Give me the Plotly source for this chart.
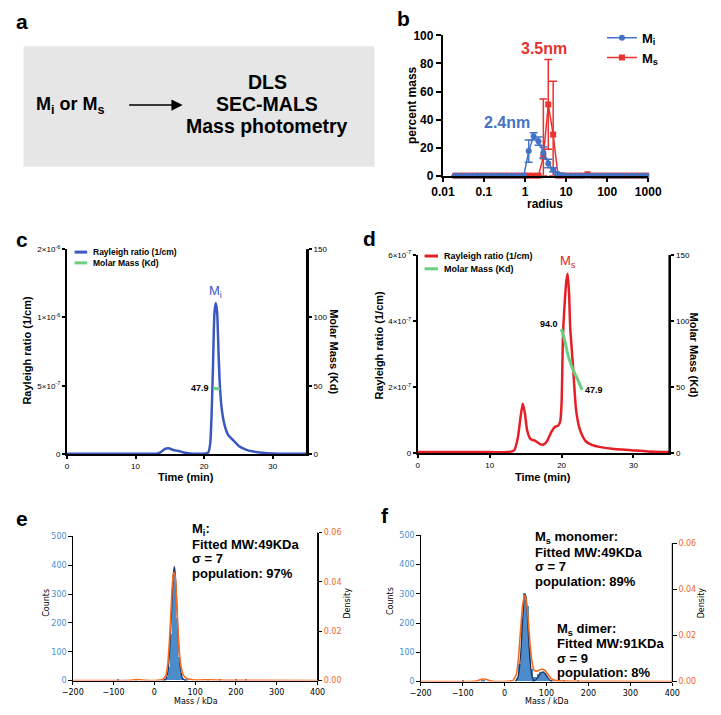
import plotly.graph_objects as go
import numpy as np

W, H = 721, 715
def fx(p): return p / W
def fy(p): return 1 - p / H

ARIAL = "Liberation Sans, Arial, sans-serif"
DJ = "DejaVu Sans, sans-serif"

# ---------------- panel b : DLS ----------------
radius = [0.020, 0.0263, 0.0346, 0.0456, 0.0600, 0.0789, 0.104, 0.137, 0.180, 0.237,
          0.312, 0.410, 0.540, 0.711, 0.935, 1.23, 1.62, 2.13, 2.80, 3.69,
          4.85, 6.39, 8.41, 11.1, 14.6, 19.2, 25.2, 33.2, 43.7, 57.5,
          75.7, 99.6, 131, 172, 227, 299, 393, 517, 681, 896]
mi_mass = [0, 0, 0, 0, 0, 0, 0, 0, 0, 0, 0, 0, 0, 0, 0, 17.5, 28, 24.6, 16.4, 8.7,
           4.2, 1.2, 0.3, 0, 0, 0, 0, 0, 0, 0, 0, 0, 0, 0, 0, 0, 0, 0, 0, 0]
mi_err = [0, 0, 0, 0, 0, 0, 0, 0, 0, 0, 0, 0, 0, 0, 0, 8, 2.5, 3, 4, 3,
          1.5, 0.5, 0, 0, 0, 0, 0, 0, 0, 0, 0, 0, 0, 0, 0, 0, 0, 0, 0, 0]
ms_mass = [0, 0, 0, 0, 0, 0, 0, 0, 0, 0, 0, 0, 0, 0, 0, 0, 0, 0, 13.6, 50.8,
           29.3, 0, 0, 0, 0, 0, 0, 1.0, 0, 0, 0, 0, 0, 0, 0, 0, 0, 0, 0, 0]
ms_err_up = [0, 0, 0, 0, 0, 0, 0, 0, 0, 0, 0, 0, 0, 0, 0, 0, 0, 0, 41, 32,
             38, 0, 0, 0, 0, 0, 0, 0, 0, 0, 0, 0, 0, 0, 0, 0, 0, 0, 0, 0]
ms_err_dn = [0, 0, 0, 0, 0, 0, 0, 0, 0, 0, 0, 0, 0, 0, 0, 0, 0, 0, 13.6, 32,
             29.3, 0, 0, 0, 0, 0, 0, 0, 0, 0, 0, 0, 0, 0, 0, 0, 0, 0, 0, 0]
radius_ticks = [0.01, 0.1, 1, 10, 100, 1000]
radius_ticklabels = ["0.01", "0.1", "1", "10", "100", "1000"]

# ---------------- panel c : SEC-MALS Mi ----------------
time_c = [0, 5, 10, 13, 13.7, 14.3, 14.8, 15.5, 16.3, 17, 18, 19, 20, 20.6, 20.9, 21.1,
          21.3, 21.5, 21.7, 21.9, 22.1, 22.3, 22.6, 23.0, 23.5, 24.4, 25.1, 26, 27, 28.5, 30, 35]
rayleigh_c = [0.02, 0.02, 0.02, 0.03, 0.15, 0.38, 0.43, 0.3, 0.22, 0.12, 0.05, 0.03, 0.03, 0.1,
              0.8, 3.0, 6.5, 10.5, 12.1, 10.8, 7.5, 5.0, 3.2, 2.1, 1.4, 0.93, 0.57, 0.35, 0.2,
              0.1, 0.05, 0.02]          # units of 1e-7 1/cm
molar_c_time = [21.3, 21.6, 21.9, 22.3]
molar_c = [48.2, 47.9, 47.8, 47.6]
# segmented left axis (GraphPad style): value (1e-7) -> plotted position
seg_vals = [0, 5, 10, 20]
seg_pos = [0, 50, 100, 150]
seg_labels = ["0", "5×10<sup>-7</sup>", "1×10<sup>-6</sup>", "2×10<sup>-6</sup>"]

# ---------------- panel d : SEC-MALS Ms ----------------
time_d = [0, 5, 10, 12.5, 13.4, 13.9, 14.3, 14.6, 14.9, 15.2, 15.6, 15.9, 16.3, 16.6, 17.0,
          17.4, 17.95, 18.6, 19.1, 19.5, 19.8, 20.0, 20.2, 20.45, 20.65, 20.85, 21.05, 21.2,
          21.6, 22.0, 22.5, 23.0, 23.4, 24.2, 25.4, 27, 30, 32, 35]
rayleigh_d = [0.03, 0.03, 0.03, 0.03, 0.08, 0.45, 1.1, 1.5, 1.2, 0.7, 0.45, 0.4, 0.38, 0.33,
              0.27, 0.25, 0.35, 0.65, 0.8, 0.83, 0.95, 1.5, 3.6, 4.6, 5.2, 5.43, 4.8, 3.8,
              2.6, 1.34, 0.74, 0.48, 0.35, 0.25, 0.18, 0.13, 0.08, 0.05, 0.03]  # 1e-7 1/cm
molar_d_time = [19.95, 20.2, 20.45, 20.9, 21.6, 22.25, 22.85]
molar_d = [94.0, 90, 85, 74, 63, 55.7, 47.9]
ray_d_ticks = [0, 2, 4, 6]
ray_d_labels = ["0", "2×10<sup>-7</sup>", "4×10<sup>-7</sup>", "6×10<sup>-7</sup>"]

# ---------------- panel e : mass photometry Mi ----------------
hist_e_mass = [-90, -45, 25, 30, 35, 40, 45, 50, 55, 60, 65, 70, 75, 80, 130, 160, 200, 225]
hist_e_counts = [1, 2, 3, 12, 45, 160, 345, 375, 215, 80, 25, 7, 3, 1, 1, 1, 1, 1]
fit_e_mass = [20, 28, 32, 36, 40, 44, 47, 49, 51, 54, 58, 62, 66, 70, 78]
fit_e_counts = [0, 5, 22, 70, 170, 300, 375, 395, 375, 300, 170, 70, 22, 5, 0]
kde_e_mass = [-200, -100, -60, -45, -35, -20, 0, 20, 28, 33, 38, 43, 47, 50, 53, 57, 61,
              65, 70, 78, 90, 110, 130, 160, 190, 230, 400]
kde_e_dens = [0, 0, 0.0001, 0.0004, 0.0003, 0.0001, 0, 0.0004, 0.002, 0.007, 0.019, 0.036,
              0.0437, 0.0435, 0.038, 0.024, 0.012, 0.006, 0.0025, 0.001, 0.0004, 0.0002,
              0.0003, 0.0002, 0.0001, 0.0001, 0]

# ---------------- panel f : mass photometry Ms ----------------
hist_f_mass = [-100, -55, -50, 30, 35, 40, 45, 50, 55, 60, 65, 70, 75, 80, 85, 90, 95, 100,
               105, 110, 140, 175]
hist_f_counts = [1, 2, 3, 10, 60, 218, 300, 290, 256, 120, 40, 15, 15, 25, 30, 32, 28, 18,
                 8, 3, 1, 1]
fit_f1_mass = [25, 30, 35, 40, 44, 47, 49, 51, 54, 58, 63, 68, 73]
fit_f1_counts = [1, 8, 40, 130, 233, 288, 300, 288, 233, 130, 40, 8, 1]
fit_f2_mass = [65, 70, 75, 80, 85, 91, 97, 102, 107, 112, 117]
fit_f2_counts = [1, 2.2, 6.7, 15.7, 26.5, 33, 26.5, 15.7, 6.7, 2.2, 1]
kde_f_mass = [-200, -80, -65, -55, -45, -35, -20, 0, 20, 28, 33, 38, 43, 48, 52, 56, 60, 65,
              70, 75, 80, 88, 95, 102, 110, 120, 140, 200, 400]
kde_f_dens = [0, 0, 0.0003, 0.001, 0.001, 0.0003, 0, 0, 0.0005, 0.003, 0.01, 0.022, 0.033,
              0.0374, 0.035, 0.028, 0.018, 0.009, 0.005, 0.0045, 0.0048, 0.0053, 0.005,
              0.0035, 0.0015, 0.0005, 0.0002, 0.0001, 0]

# ---------------- colours ----------------
B_BLUE, B_RED = "#4472c4", "#e8322d"
C_BLUE, D_RED, GREEN = "#3b58c0", "#e41f26", "#6ccf7f"
H_BLUE, NAVY, ORANGE = "#4d8ccb", "#1b2f5e", "#f86a1c"
TICK_BLUE, TICK_ORANGE = "#3f8fd2", "#f2661c"

fig = go.Figure()

# b
fig.add_trace(go.Scatter(
    x=radius, y=ms_mass, mode="lines+markers", name="M<sub>s</sub>",
    marker=dict(symbol="square", size=6, color=B_RED), line=dict(color=B_RED, width=1.5),
    error_y=dict(type="data", symmetric=False, array=ms_err_up, arrayminus=ms_err_dn,
                 color=B_RED, thickness=1.5, width=4),
    xaxis="x", yaxis="y", legend="legend", legendrank=2, cliponaxis=False))
fig.add_trace(go.Scatter(
    x=radius, y=mi_mass, mode="lines+markers", name="M<sub>i</sub>",
    marker=dict(symbol="circle", size=6, color=B_BLUE), line=dict(color=B_BLUE, width=1.5),
    error_y=dict(type="data", array=mi_err, color=B_BLUE, thickness=1.5, width=4),
    xaxis="x", yaxis="y", legend="legend", legendrank=1, cliponaxis=False))

# c
ray_c_pos = np.interp(rayleigh_c, seg_vals, seg_pos)
fig.add_trace(go.Scatter(
    x=time_c, y=ray_c_pos, mode="lines", name="Rayleigh ratio (1/cm)",
    line=dict(color=C_BLUE, width=2.5, shape="spline", smoothing=0.5),
    xaxis="x2", yaxis="y2", showlegend=False))
fig.add_trace(go.Scatter(
    x=molar_c_time, y=molar_c, mode="lines", name="Molar Mass (Kd)",
    line=dict(color=GREEN, width=3), xaxis="x2", yaxis="y3", showlegend=False))

# d
fig.add_trace(go.Scatter(
    x=time_d, y=rayleigh_d, mode="lines", name="Rayleigh ratio (1/cm)",
    line=dict(color=D_RED, width=2.5, shape="spline", smoothing=0.5),
    xaxis="x3", yaxis="y4", showlegend=False))
fig.add_trace(go.Scatter(
    x=molar_d_time, y=molar_d, mode="lines", name="Molar Mass (Kd)",
    line=dict(color=GREEN, width=3, shape="spline"), xaxis="x3", yaxis="y5", showlegend=False))

# e
fig.add_trace(go.Bar(x=hist_e_mass, y=hist_e_counts, width=5, marker=dict(color=H_BLUE, line=dict(width=0)),
                     xaxis="x4", yaxis="y6", showlegend=False))
fig.add_trace(go.Scatter(x=fit_e_mass, y=fit_e_counts, mode="lines", line=dict(color=NAVY, width=1.2, shape="spline"),
                         xaxis="x4", yaxis="y6", showlegend=False))
fig.add_trace(go.Scatter(x=kde_e_mass, y=kde_e_dens, mode="lines", line=dict(color=ORANGE, width=1.6, shape="spline", smoothing=0.4),
                         xaxis="x4", yaxis="y7", showlegend=False))

# f
fig.add_trace(go.Bar(x=hist_f_mass, y=hist_f_counts, width=5, marker=dict(color=H_BLUE, line=dict(width=0)),
                     xaxis="x5", yaxis="y8", showlegend=False))
fig.add_trace(go.Scatter(x=fit_f1_mass, y=fit_f1_counts, mode="lines", line=dict(color=NAVY, width=1.2, shape="spline"),
                         xaxis="x5", yaxis="y8", showlegend=False))
fig.add_trace(go.Scatter(x=fit_f2_mass, y=fit_f2_counts, mode="lines", line=dict(color=NAVY, width=1.2, shape="spline"),
                         xaxis="x5", yaxis="y8", showlegend=False))
fig.add_trace(go.Scatter(x=kde_f_mass, y=kde_f_dens, mode="lines", line=dict(color=ORANGE, width=1.6, shape="spline", smoothing=0.4),
                         xaxis="x5", yaxis="y9", showlegend=False))

# ---------------- axes ----------------
def gp_axis(**kw):
    d = dict(showline=True, linecolor="black", linewidth=2, ticks="outside", ticklen=3,
             tickwidth=1.5, tickcolor="black", showgrid=False, zeroline=False,
             tickfont=dict(family=ARIAL, size=8, color="black"))
    d.update(kw)
    return d

def mp_axis(**kw):
    d = dict(showline=True, linecolor="black", linewidth=1, ticks="outside", ticklen=3.5,
             tickwidth=1, tickcolor="black", showgrid=False, zeroline=False,
             tickfont=dict(family=DJ, size=8, color="black"))
    d.update(kw)
    return d

bfont = dict(family=ARIAL, size=12, color="black", weight="bold")
layout_axes = dict(
    xaxis=gp_axis(domain=[fx(447), fx(660)], anchor="y", type="log", range=[-2, 3],
                  tickvals=radius_ticks, ticktext=radius_ticklabels, tickfont=bfont, ticklen=4, tickwidth=2),
    yaxis=gp_axis(domain=[fy(172), fy(29)], anchor="x", range=[0, 100], tickvals=[0, 20, 40, 60, 80, 100],
                  tickfont=bfont, ticklen=5, tickwidth=2),
    xaxis2=gp_axis(domain=[fx(57), fx(306)], anchor="y2", range=[0, 35], tickvals=[0, 10, 20, 30]),
    yaxis2=gp_axis(domain=[fy(456), fy(247)], anchor="x2", range=[0, 150], tickvals=seg_pos, ticktext=seg_labels),
    yaxis3=gp_axis(overlaying="y2", side="right", anchor="x2", range=[0, 150], tickvals=[0, 50, 100, 150]),
    xaxis3=gp_axis(domain=[fx(421), fx(682)], anchor="y4", range=[0, 35], tickvals=[0, 10, 20, 30]),
    yaxis4=gp_axis(domain=[fy(455), fy(253)], anchor="x3", range=[0, 6], tickvals=ray_d_ticks, ticktext=ray_d_labels),
    yaxis5=gp_axis(overlaying="y4", side="right", anchor="x3", range=[0, 150], tickvals=[0, 50, 100, 150]),
    xaxis4=mp_axis(domain=[fx(63), fx(317)], anchor="y6", range=[-200, 400], tickvals=[-200, -100, 0, 100, 200, 300, 400]),
    yaxis6=mp_axis(domain=[fy(687), fy(540)], anchor="x4", range=[0, 500], tickvals=[0, 100, 200, 300, 400, 500],
                   tickfont=dict(family=DJ, size=8, color=TICK_BLUE)),
    yaxis7=mp_axis(domain=[fy(687), fy(536)], anchor="x4", side="right", range=[0, 0.06],
                   tickvals=[0, 0.02, 0.04, 0.06], ticktext=["0.00", "0.02", "0.04", "0.06"],
                   tickfont=dict(family=DJ, size=8, color=TICK_ORANGE)),
    xaxis5=mp_axis(domain=[fx(424), fx(685)], anchor="y8", range=[-200, 400], tickvals=[-200, -100, 0, 100, 200, 300, 400]),
    yaxis8=mp_axis(domain=[fy(688), fy(539)], anchor="x5", range=[0, 500], tickvals=[0, 100, 200, 300, 400, 500],
                   tickfont=dict(family=DJ, size=8, color=TICK_BLUE)),
    yaxis9=mp_axis(domain=[fy(688), fy(547)], anchor="x5", side="right", range=[0, 0.06],
                   tickvals=[0, 0.02, 0.04, 0.06], ticktext=["0.00", "0.02", "0.04", "0.06"],
                   tickfont=dict(family=DJ, size=8, color=TICK_ORANGE)),
)

# ---------------- annotations ----------------
ann = []
def txt(text, x, y, size, color="black", bold=True, angle=0, xanchor="center", yanchor="middle", family=ARIAL):
    ann.append(dict(text=text, x=fx(x), y=fy(y), xref="paper", yref="paper", showarrow=False,
                    font=dict(size=size, color=color, family=family, weight="bold" if bold else "normal"),
                    textangle=angle, xanchor=xanchor, yanchor=yanchor))

shapes = [dict(type="rect", xref="paper", yref="paper", x0=fx(12), x1=fx(376), y0=fy(163), y1=fy(40),
               fillcolor="#e6e6e6", line=dict(width=0), layer="below")]

# right-hand spines drawn along the right edge of each axis domain
for xa, ya, lw in [("x2", "y2", 2), ("x3", "y4", 2), ("x4", "y7", 1), ("x5", "y9", 1)]:
    shapes.append(dict(type="line", xref=f"{xa} domain", yref=f"{ya} domain", x0=1, x1=1, y0=0, y1=1,
                       line=dict(color="black", width=lw)))

def legend_entry(label, color, x0, x1, y, size=8.5):
    shapes.append(dict(type="line", xref="paper", yref="paper", x0=fx(x0), x1=fx(x1), y0=fy(y), y1=fy(y),
                       line=dict(color=color, width=3)))
    txt(label, x1 + 4, y, size, xanchor="left")

# panel letters
for letter, x, y in [("a", 10, 15), ("b", 406, 12), ("c", 10, 237), ("d", 371, 236), ("e", 10, 522), ("f", 387, 519)]:
    txt(letter, x, y, 21)

# panel a
txt("M<sub>i</sub> or M<sub>s</sub>", 61, 100, 18)
txt("DLS", 265, 77, 19.5)
txt("SEC-MALS", 265, 99, 19.5)
txt("Mass photometry", 265, 121, 19.5)
ann.append(dict(text="", x=fx(177), y=fy(100), xref="paper", yref="paper", ax=-55, ay=0,
                showarrow=True, arrowhead=2, arrowsize=1.4, arrowwidth=1.6, arrowcolor="black"))

# panel b
txt("percent mass", 415, 100, 12, angle=-90)
txt("radius", 553, 201, 12)
txt("3.5nm", 552, 42, 16, color=B_RED)
txt("2.4nm", 514, 118, 16, color=B_BLUE)

# panel c
txt("Rayleigh ratio (1/cm)", 16, 350, 11, angle=-90)
txt("Molar Mass (Kd)", 334, 352, 11, angle=90)
txt("Time (min)", 181, 479, 11)
legend_entry("Rayleigh ratio (1/cm)", C_BLUE, 65, 78, 250)
legend_entry("Molar Mass (Kd)", GREEN, 65, 78, 261)
ic = int(np.argmax(rayleigh_c))
ann.append(dict(text="M<sub>i</sub>", x=time_c[ic], y=ray_c_pos[ic], xref="x2", yref="y2", showarrow=False,
                yanchor="bottom", yshift=1, font=dict(family=ARIAL, size=13, color=C_BLUE)))
ann.append(dict(text="47.9", x=molar_c_time[0], y=molar_c[0], xref="x2", yref="y3", showarrow=False,
                xanchor="right", xshift=-2, font=dict(family=ARIAL, size=9, color="black", weight="bold")))

# panel d
txt("Rayleigh ratio (1/cm)", 381, 345, 11, angle=-90)
txt("Molar Mass (Kd)", 707, 355, 11, angle=90)
txt("Time (min)", 551, 479, 11)
legend_entry("Rayleigh ratio (1/cm)", D_RED, 428, 442, 254, 9)
legend_entry("Molar Mass (Kd)", GREEN, 428, 442, 267, 9)
idd = int(np.argmax(rayleigh_d))
ann.append(dict(text="M<sub>s</sub>", x=time_d[idd], y=rayleigh_d[idd], xref="x3", yref="y4", showarrow=False,
                yanchor="bottom", yshift=2, font=dict(family=ARIAL, size=13, color=D_RED)))
ann.append(dict(text="94.0", x=molar_d_time[0], y=molar_d[0], xref="x3", yref="y5", showarrow=False,
                xanchor="right", xshift=-1, yshift=5, font=dict(family=ARIAL, size=9, color="black", weight="bold")))
ann.append(dict(text="47.9", x=molar_d_time[-1], y=molar_d[-1], xref="x3", yref="y5", showarrow=False,
                xanchor="left", xshift=1, font=dict(family=ARIAL, size=9, color="black", weight="bold")))

# panel e
txt("Counts", 35, 608, 8, angle=-90, bold=False, family=DJ)
txt("Mass / kDa", 191, 708, 8, bold=False, family=DJ)
txt("Density", 348, 608, 8, angle=-90, bold=False, family=DJ)
for i, line in enumerate(["M<sub>i</sub>:", "Fitted MW:49KDa", "σ = 7", "population: 97%"]):
    txt(line, 185, 533 + 15 * i, 13, xanchor="left")

# panel f
txt("Counts", 392, 606, 8, angle=-90, bold=False, family=DJ)
txt("Mass / kDa", 555, 708, 8, bold=False, family=DJ)
txt("Density", 715, 608, 8, angle=-90, bold=False, family=DJ)
for i, line in enumerate(["M<sub>s</sub> monomer:", "Fitted MW:49KDa", "σ = 7", "population: 89%"]):
    txt(line, 540, 541 + 15 * i, 13, xanchor="left")
for i, line in enumerate(["M<sub>s</sub> dimer:", "Fitted MW:91KDa", "σ = 9", "population: 8%"]):
    txt(line, 563, 635 + 14.7 * i, 13, xanchor="left")

fig.update_layout(
    width=W, height=H, autosize=False, margin=dict(l=0, r=0, t=0, b=0),
    paper_bgcolor="white", plot_bgcolor="rgba(0,0,0,0)",
    font=dict(family=ARIAL, color="black"),
    annotations=ann, shapes=shapes, bargap=0,
    legend=dict(x=fx(612), y=fy(16), xanchor="left", yanchor="top", bgcolor="rgba(0,0,0,0)",
                font=dict(family=ARIAL, size=13, weight="bold"), tracegroupgap=0),
    **layout_axes,
)

fig.write_html("out.html", config={"displayModeBar": False},
               post_script="document.body.style.margin='0';")
